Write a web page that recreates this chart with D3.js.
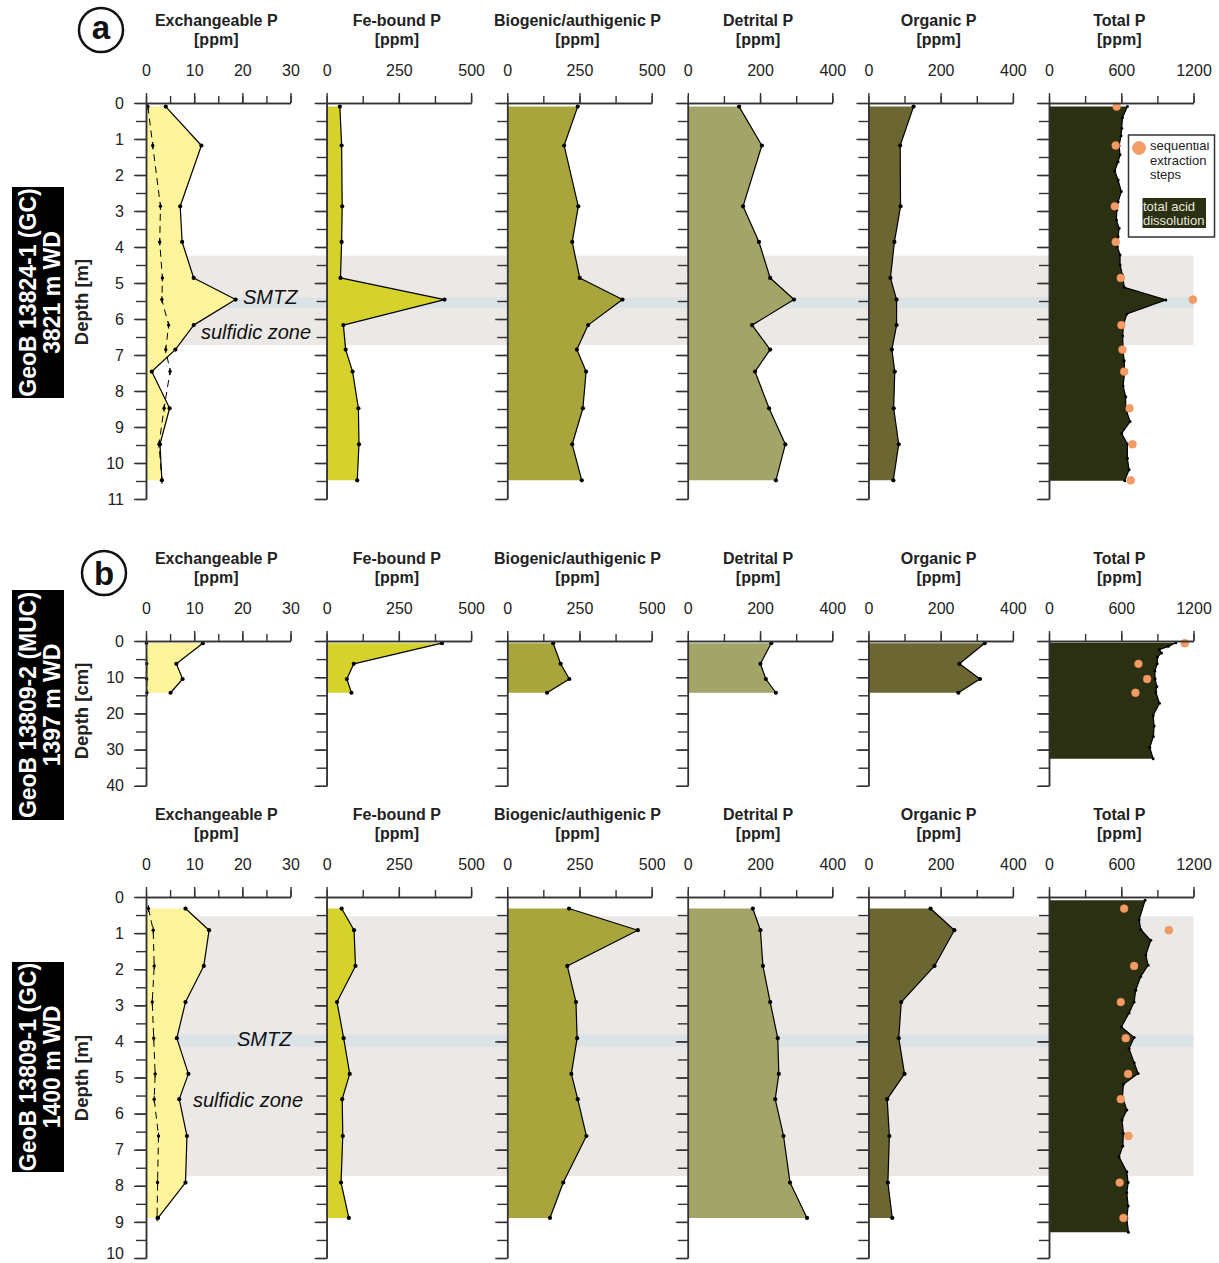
<!DOCTYPE html>
<html>
<head>
<meta charset="utf-8">
<script src="https://cdn.jsdelivr.net/npm/d3@7"></script>
<style>
  body { margin: 0; background: #fff; }
  svg { display: block; }
  text { font-family: "Liberation Sans", Arial, Helvetica, sans-serif; }
</style>
</head>
<body>
<svg id="chart" width="1219" height="1263"></svg>
<script>
// ---- Phosphorus fractions: column setup ----
const fractionNames = ["Exchangeable P", "Fe-bound P", "Biogenic/authigenic P", "Detrital P", "Organic P", "Total P"];
const unitLabel = "[ppm]";
const axisMax = [30, 500, 500, 400, 400, 1200];
const tickStep = [5, 125, 125, 100, 100, 300];
const tickLabels = [[0, 10, 20, 30], [0, 250, 500], [0, 250, 500], [0, 200, 400], [0, 200, 400], [0, 600, 1200]];
const fillColors = ["#fdf49b", "#d4d22b", "#a7a53b", "#a3a467", "#6b6632", "#2c3013"];

// ---- GeoB 13824-1 (GC), depth in m ----
const depthA    = [0.10, 1.18, 2.87, 3.86, 4.86, 5.46, 6.17, 6.85, 7.46, 8.48, 9.48, 10.48];
const exchA     = [4.1, 11.5, 7.1, 7.5, 9.9, 18.6, 9.9, 6.1, 1.2, 4.9, 2.9, 3.3];
const exchPwA   = [0.4, 1.4, 3.0, 2.85, 3.4, 3.3, 4.7, 4.1, 5.0, 3.75, 2.7, 3.3];
const feA       = [46, 52, 54, 52, 48, 408, 58, 66, 90, 110, 112, 106];
const bioA      = [244, 197, 246, 225, 251, 399, 280, 241, 273, 262, 225, 258];
const detA      = [142, 205, 153, 197, 228, 294, 178, 228, 186, 225, 270, 244];
const orgA      = [125, 88, 89, 72, 61, 78, 78, 65, 73, 70, 84, 69];
const seqA      = [562, 554, 546, 554, 596, 1195, 601, 610, 624, 668, 693, 679];
const totDepthA = [0.10, 0.41, 0.70, 0.91, 1.19, 1.44, 1.63, 1.89, 2.14, 2.46, 2.74, 2.97, 3.25, 3.48, 3.71, 3.99, 4.22, 4.50, 4.78, 5.12, 5.47, 5.86, 6.17, 6.47, 6.86, 7.16, 7.46, 7.86, 8.16, 8.48, 8.85, 9.18, 9.47, 9.87, 10.19, 10.49];
const totalA    = [651, 610, 604, 598, 582, 590, 574, 546, 574, 601, 574, 563, 560, 582, 574, 568, 590, 590, 610, 625, 970, 646, 618, 612, 615, 624, 629, 615, 637, 637, 673, 604, 651, 651, 665, 629];

// ---- GeoB 13809-2 (MUC), depth in cm ----
const depthB    = [0.6, 6.3, 10.5, 14.3];
const exchB     = [11.8, 6.3, 7.6, 5.1];
const exchPwB   = [0.1, 0.15, 0.15, 0.2];
const feB       = [399, 94, 70, 86];
const bioB      = [159, 185, 215, 138];
const detB      = [231, 201, 216, 244];
const orgB      = [322, 252, 309, 249];
const seqB      = [1128, 743, 815, 718];
const totDepthB = [0.46, 1.48, 2.4, 3.3, 4.4, 6.3, 8.3, 10.4, 12.6, 14.1, 17.2, 20.6, 23.5, 26.4, 29.4, 32.5];
const totalB    = [1053, 992, 915, 934, 901, 898, 879, 881, 895, 887, 917, 865, 873, 867, 837, 865];

// ---- GeoB 13809-1 (GC), depth in m ----
const depthC    = [0.32, 0.92, 1.91, 2.91, 3.91, 4.90, 5.60, 6.62, 7.91, 8.89];
const exchC     = [8.2, 13.1, 12.0, 8.2, 6.4, 8.8, 6.9, 8.5, 8.2, 2.5];
const exchPwC   = [0.5, 1.5, 1.7, 1.3, 1.6, 1.9, 1.7, 2.6, 2.4, 2.3];
const feC       = [52, 95, 100, 36, 59, 80, 54, 56, 50, 77];
const bioC      = [214, 452, 208, 238, 242, 222, 244, 274, 194, 148];
const detC      = [180, 201, 208, 228, 249, 252, 242, 265, 283, 330];
const orgC      = [172, 238, 183, 91, 84, 100, 52, 58, 54, 66];
const seqC      = [624, 995, 707, 596, 637, 657, 596, 660, 587, 618];
const totDepthC = [0.09, 0.63, 0.90, 1.20, 1.61, 1.89, 2.20, 2.58, 2.91, 3.21, 3.60, 3.89, 4.20, 4.59, 4.89, 5.19, 5.54, 5.90, 6.18, 6.55, 6.90, 7.20, 7.61, 7.91, 8.19, 8.56, 8.90, 9.29];
const totalC    = [798, 748, 762, 845, 804, 823, 762, 720, 707, 665, 601, 707, 665, 707, 740, 618, 610, 646, 607, 618, 613, 582, 646, 657, 646, 657, 646, 660];

// ---- layout ----
const svg = d3.select("#chart");
const svgHeight = 1263;
const colLeft = 146, colGap = 180.6, colWidth = 144.5;
const axisColor = "#333";
const bandGray = "#ebe8e5", bandBlue = "#dce3e6";
const orange = "#f59c65";

const cores = [
  {
    top: 103, depthMax: 11, pxPerUnit: 36, minorStep: 0.5, majorStep: 1,
    depthTitle: "Depth [m]", titleMid: 302, letter: "a", letterPos: [101, 30],
    sideLines: ["GeoB 13824-1 (GC)", "3821 m WD"], sideBox: [187, 398],
    bands: [{ from: 4.24, to: 6.72, color: bandGray }, { from: 5.40, to: 5.70, color: bandBlue }],
    notes: [{ text: "SMTZ", x: 243, y: 304 }, { text: "sulfidic zone", x: 201, y: 339 }],
    depth: depthA, fractions: [exchA, feA, bioA, detA, orgA], exchPw: exchPwA,
    totDepth: totDepthA, total: totalA, seq: seqA, legend: true
  },
  {
    top: 641, depthMax: 40, pxPerUnit: 3.62, minorStep: 5, majorStep: 10,
    depthTitle: "Depth [cm]", titleMid: 711, letter: "b", letterPos: [104, 573],
    sideLines: ["GeoB 13809-2 (MUC)", "1397 m WD"], sideBox: [590, 820],
    bands: [], notes: [],
    depth: depthB, fractions: [exchB, feB, bioB, detB, orgB], exchPw: exchPwB,
    totDepth: totDepthB, total: totalB, seq: seqB, legend: false
  },
  {
    top: 897, depthMax: 10, pxPerUnit: 36.1, minorStep: 0.5, majorStep: 1,
    depthTitle: "Depth [m]", titleMid: 1078, letter: null,
    sideLines: ["GeoB 13809-1 (GC)", "1400 m WD"], sideBox: [962, 1172],
    bands: [{ from: 0.535, to: 7.73, color: bandGray }, { from: 3.80, to: 4.15, color: bandBlue }],
    notes: [{ text: "SMTZ", x: 237, y: 1046 }, { text: "sulfidic zone", x: 193, y: 1107 }],
    depth: depthC, fractions: [exchC, feC, bioC, detC, orgC], exchPw: exchPwC,
    totDepth: totDepthC, total: totalC, seq: seqC, legend: false
  }
];

function styleAxis(g, fontSize) {
  g.attr("font-family", null).attr("font-size", fontSize);
  g.select(".domain").attr("stroke", axisColor).attr("stroke-width", 1.5);
  g.selectAll(".tick line").attr("stroke", axisColor).attr("stroke-width", 1.4);
  g.selectAll(".tick text").attr("fill", "#222");
}

function drawCore(cfg) {
  const g = svg.append("g");
  const y = d3.scaleLinear().domain([0, cfg.depthMax])
    .range([cfg.top, cfg.top + cfg.depthMax * cfg.pxPerUnit]);
  const xs = axisMax.map((m, i) => d3.scaleLinear().domain([0, m])
    .range([colLeft + i * colGap, colLeft + i * colGap + colWidth]));
  const bandRight = xs[5].range()[1];

  // zone shading behind the profiles
  cfg.bands.forEach(b => {
    g.append("rect")
      .attr("x", colLeft).attr("width", bandRight - colLeft)
      .attr("y", y(b.from)).attr("height", y(b.to) - y(b.from))
      .attr("fill", b.color);
  });

  const columnSeries = cfg.fractions.map(vals => cfg.depth.map((d, k) => ({ d, v: vals[k] })));
  columnSeries.push(cfg.totDepth.map((d, k) => ({ d, v: cfg.total[k] })));

  xs.forEach((x, i) => {
    const pts = columnSeries[i];
    const area = d3.area().y(p => y(p.d)).x0(x(0)).x1(p => x(p.v));
    g.append("path").attr("d", area(pts)).attr("fill", fillColors[i]);
    const line = d3.line().x(p => x(p.v)).y(p => y(p.d));
    g.append("path").attr("d", line(pts)).attr("fill", "none")
      .attr("stroke", "#000").attr("stroke-width", 1.2).attr("stroke-linejoin", "round");
    g.append("g").selectAll("circle").data(pts).join("circle")
      .attr("cx", p => x(p.v)).attr("cy", p => y(p.d))
      .attr("r", i === 5 ? 1.5 : 2.1).attr("fill", "#000");

    // second exchangeable P profile (dashed)
    if (i === 0) {
      const pw = cfg.depth.map((d, k) => ({ d, v: cfg.exchPw[k] }));
      g.append("path").attr("d", line(pw)).attr("fill", "none")
        .attr("stroke", "#000").attr("stroke-width", 1).attr("stroke-dasharray", "7,5");
      const mk = g.append("g").selectAll("g").data(pw).join("g")
        .attr("transform", p => `translate(${x(p.v)},${y(p.d)})`);
      mk.append("line").attr("y1", -3.5).attr("y2", 3.5).attr("stroke", "#000").attr("stroke-width", 1);
      mk.append("circle").attr("r", 1.7).attr("fill", "#000");
    }

    // sequential extraction sums
    if (i === 5) {
      g.append("g").selectAll("circle").data(cfg.depth.map((d, k) => ({ d, v: cfg.seq[k] })))
        .join("circle")
        .attr("cx", p => x(p.v)).attr("cy", p => y(p.d)).attr("r", 3.9)
        .attr("fill", orange).attr("stroke", "#e3895a").attr("stroke-width", 0.6);
    }

    // top value axis
    const minorX = d3.range(0, axisMax[i] + 1e-9, tickStep[i]);
    const ax1 = g.append("g").attr("transform", `translate(0,${y(0)})`)
      .call(d3.axisTop(x).tickValues(minorX).tickSize(7).tickSizeOuter(0).tickFormat(""));
    styleAxis(ax1, 16);
    const ax2 = g.append("g").attr("transform", `translate(0,${y(0)})`)
      .call(d3.axisTop(x).tickValues(tickLabels[i]).tickSize(10).tickSizeOuter(0).tickPadding(17).tickFormat(d3.format("d")));
    styleAxis(ax2, 16);

    // depth axis
    const minorY = d3.range(0, cfg.depthMax + 1e-9, cfg.minorStep);
    const majorY = d3.range(0, cfg.depthMax + 1e-9, cfg.majorStep);
    const ay1 = g.append("g").attr("transform", `translate(${x(0)},0)`)
      .call(d3.axisLeft(y).tickValues(minorY).tickSize(10).tickSizeOuter(0).tickFormat(""));
    styleAxis(ay1, 16);
    const ay2 = g.append("g").attr("transform", `translate(${x(0)},0)`)
      .call(d3.axisLeft(y).tickValues(majorY).tickSize(12).tickSizeOuter(0).tickPadding(10)
        .tickFormat(i === 0 ? d3.format("d") : ""));
    styleAxis(ay2, 16);
    // keep the lowest depth label inside the page
    ay2.selectAll(".tick text").filter(d => y(d) + 7 > svgHeight).attr("dy", "0.05em");

    // column title
    const cx = x(0) + colWidth / 2 - 2;
    g.append("text").attr("x", cx).attr("y", y(0) - 77).attr("text-anchor", "middle")
      .attr("font-weight", "bold").attr("font-size", 16).attr("fill", "#222").text(fractionNames[i]);
    g.append("text").attr("x", cx).attr("y", y(0) - 58).attr("text-anchor", "middle")
      .attr("font-weight", "bold").attr("font-size", 16).attr("fill", "#222").text(unitLabel);
  });

  // zone annotations
  cfg.notes.forEach(n => {
    g.append("text").attr("x", n.x).attr("y", n.y).attr("font-style", "italic")
      .attr("font-size", 20).attr("fill", "#111").text(n.text);
  });

  // depth title
  g.append("text").attr("transform", `translate(88,${cfg.titleMid}) rotate(-90)`)
    .attr("text-anchor", "middle").attr("font-weight", "bold").attr("font-size", 18.5)
    .attr("fill", "#222").text(cfg.depthTitle);

  // core label block
  const yMid = (cfg.sideBox[0] + cfg.sideBox[1]) / 2;
  g.append("rect").attr("x", 12).attr("y", cfg.sideBox[0]).attr("width", 52)
    .attr("height", cfg.sideBox[1] - cfg.sideBox[0]).attr("fill", "#000");
  [36, 60].forEach((bx, k) => {
    g.append("text").attr("transform", `translate(${bx},${yMid}) rotate(-90)`)
      .attr("text-anchor", "middle").attr("font-weight", "bold").attr("font-size", 23)
      .attr("fill", "#fff").text(cfg.sideLines[k]);
  });

  // panel letter
  if (cfg.letter) {
    const [lx, ly] = cfg.letterPos;
    g.append("circle").attr("cx", lx).attr("cy", ly).attr("r", 22)
      .attr("fill", "#fff").attr("stroke", "#111").attr("stroke-width", 2.5);
    g.append("text").attr("x", lx).attr("y", ly + (cfg.letter === "a" ? 9 : 11.5))
      .attr("text-anchor", "middle").attr("font-weight", "bold").attr("font-size", 33)
      .attr("fill", "#111").text(cfg.letter);
  }

  // legend
  if (cfg.legend) {
    const lg = g.append("g");
    lg.append("rect").attr("x", 1128.5).attr("y", 135).attr("width", 86).attr("height", 102)
      .attr("fill", "#fff").attr("stroke", "#333").attr("stroke-width", 1.5);
    const clipId = "legendClip";
    svg.append("defs").append("clipPath").attr("id", clipId)
      .append("rect").attr("x", 1129).attr("y", 142.5).attr("width", 85).attr("height", 94);
    const lt = lg.append("g").attr("clip-path", `url(#${clipId})`);
    lg.append("circle").attr("cx", 1139).attr("cy", 148).attr("r", 6.5)
      .attr("fill", orange).attr("stroke", "#e3895a").attr("stroke-width", 0.6);
    [["sequential", 150], ["extraction", 164.5], ["steps", 179]].forEach(([t, yy]) => {
      lt.append("text").attr("x", 1150).attr("y", yy).attr("font-size", 13).attr("fill", "#222").text(t);
    });
    lg.append("rect").attr("x", 1142.5).attr("y", 198).attr("width", 63.5).attr("height", 30)
      .attr("fill", fillColors[5]);
    [["total acid", 210.5], ["dissolution", 224.5]].forEach(([t, yy]) => {
      lg.append("text").attr("x", 1143).attr("y", yy).attr("font-size", 13)
        .attr("fill", "#e8e8dc").text(t);
    });
  }
}

cores.forEach(drawCore);
</script>
</body>
</html>
